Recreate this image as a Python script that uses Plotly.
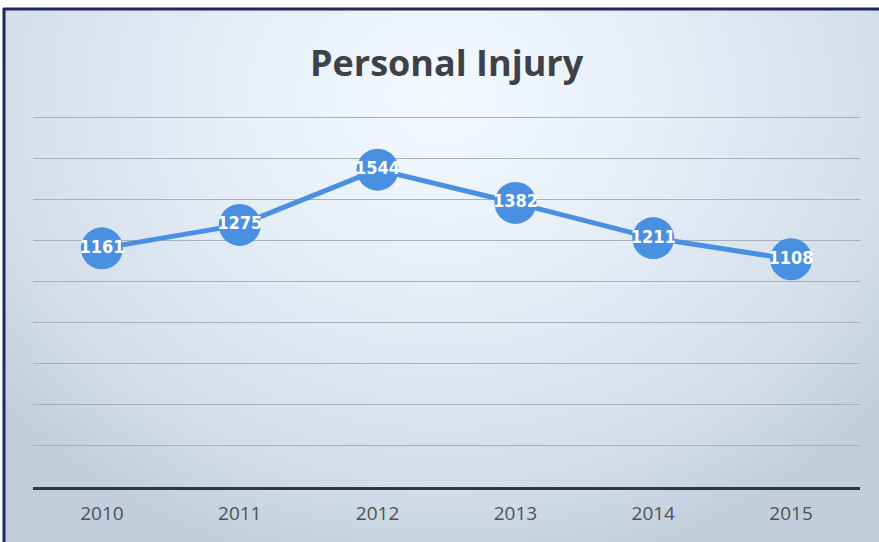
import base64
import plotly.graph_objects as go

years = ["2010", "2011", "2012", "2013", "2014", "2015"]
cases = [1161, 1275, 1544, 1382, 1211, 1108]

W, H = 879, 542
ML, MR, MT, MB = 33, 19, 116, 55
PW, PH = W - ML - MR, H - MT - MB
YMAX = 1805  # a little headroom so the 1800 gridline is drawn

# soft radial backdrop for the chart frame
svg = f"""<svg xmlns='http://www.w3.org/2000/svg' width='{W}' height='{H}' viewBox='0 0 {W} {H}'>
<defs><radialGradient id='g' gradientUnits='userSpaceOnUse' cx='440' cy='90' r='520'
 gradientTransform='translate(440 90) scale(1.1 0.95) translate(-440 -90)'>
<stop offset='0' stop-color='#f4f9fe'/>
<stop offset='0.4' stop-color='#e5eef7'/>
<stop offset='0.8' stop-color='#d2dde9'/>
<stop offset='1' stop-color='#c2cedb'/>
</radialGradient></defs>
<rect x='0' y='0' width='{W}' height='{H}' fill='url(#g)'/>
</svg>"""
src = "data:image/svg+xml;base64," + base64.b64encode(svg.encode()).decode()


def px_x(p):
    return (p - ML) / PW


def px_y(p):
    return (H - MB - p) / PH


fig = go.Figure()
fig.add_trace(go.Scatter(
    x=years, y=cases,
    mode="lines+markers+text",
    line=dict(color="#4a90e2", width=5),
    marker=dict(size=42, color="#4a90e2"),
    text=[str(v) for v in cases],
    textposition="middle center",
    textfont=dict(family="Liberation Sans Narrow, DejaVu Sans Condensed, sans-serif",
                  size=18, color="white", weight="bold"),
    cliponaxis=False,
    hoverinfo="x+y",
))

fig.update_layout(
    width=W, height=H,
    margin=dict(l=ML, r=MR, t=MT, b=MB, autoexpand=False),
    paper_bgcolor="white",
    plot_bgcolor="rgba(0,0,0,0)",
    showlegend=False,
    title=dict(text="<b>Personal Injury</b>", x=0.508, xanchor="center",
               y=1 - 63 / H, yanchor="middle",
               font=dict(family="Open Sans, Noto Sans, sans-serif", size=36, color="#3e4248")),
    xaxis=dict(type="category", range=[-0.5, 5.5], showgrid=False, automargin=False,
               showline=True, linecolor="#2d3642", linewidth=3,
               ticks="", ticklabelstandoff=7,
               tickfont=dict(family="Open Sans, Noto Sans, sans-serif", size=19, color="#4d525a")),
    yaxis=dict(range=[0, YMAX], tick0=0, dtick=200, showticklabels=False, zeroline=False,
               automargin=False,
               showgrid=True, gridcolor="#a8b0ba", gridwidth=1, showline=False, ticks=""),
    images=[dict(source=src, xref="paper", yref="paper",
                 x=px_x(4), y=px_y(9), sizex=(W - 4) / PW, sizey=(H - 9) / PH,
                 xanchor="left", yanchor="top", sizing="stretch", layer="below")],
    shapes=[
        dict(type="line", xref="paper", yref="paper", x0=px_x(3), x1=px_x(W + 2),
             y0=px_y(9), y1=px_y(9), line=dict(color="#1c2a5a", width=3)),
        dict(type="line", xref="paper", yref="paper", x0=px_x(4), x1=px_x(4),
             y0=px_y(8), y1=px_y(H + 2), line=dict(color="#1c2a5a", width=3)),
    ],
)

fig.write_html("out.html")
